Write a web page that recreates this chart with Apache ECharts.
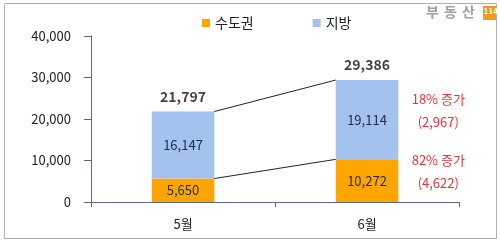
<!DOCTYPE html>
<html><head><meta charset="utf-8">
<script src="https://cdn.jsdelivr.net/npm/echarts@6/dist/echarts.min.js"></script>
<style>html,body{margin:0;padding:0;background:#fff}#c{width:500px;height:243px}</style>
</head><body><div id="c"></div>
<script>
var categories = ['5월', '6월'];
var metro = [5650, 10272];      // 수도권
var region = [16147, 19114];    // 지방
var totals = [21797, 29386];
var regionChange = ['18% 증가', '(2,967)'];
var metroChange = ['82% 증가', '(4,622)'];
var yTicks = [0, 10000, 20000, 30000, 40000];

var FONT = '"Noto Sans CJK KR", "Noto Sans", sans-serif';
var ORANGE = '#FFA500', BLUE = '#A4C2EE', RED = '#E0393E', LBL = '#1C2A47';
var BARW = 0.34;

function fmt(v){ return v.toLocaleString('en-US'); }

var logoChars = ['부', '동', '산'];
var logoGraphics = logoChars.map(function(ch, i){
  return {type:'text', left: 426 + i*18, top: 5, style:{text: ch, fill:'#a0a0a0', font:'bold 14px ' + FONT}};
});

var chart = echarts.init(document.getElementById('c'));
chart.setOption({
  animation: false,
  textStyle: {fontFamily: FONT},
  graphic: [
    {type:'rect', shape:{x:4.5,y:3.5,width:492,height:235}, style:{fill:'none', stroke:'#B0B0B0', lineWidth:1}, z:-1}
  ].concat(logoGraphics).concat([
    {type:'rect', shape:{x:483,y:6,width:13,height:14}, style:{fill:'#F39A1E'}, z:10},
    {type:'text', left:483.5, top:7, z:11, style:{text:'114', fill:'#fff', font:'bold 8px ' + FONT}}
  ]),
  legend: {
    top: 11, left: 197,
    itemWidth: 8, itemHeight: 8, itemGap: 59,
    icon: 'rect',
    textStyle: {fontSize: 14, color: '#222', fontFamily: FONT},
    data: ['수도권', '지방']
  },
  grid: {left: 91, right: 41, top: 36, bottom: 41},
  xAxis: {
    type: 'category', data: categories,
    axisLine: {lineStyle: {color: '#5A6A80'}},
    axisTick: {show: true, length: 5, lineStyle: {color: '#5A6A80'}},
    axisLabel: {color: '#222', fontSize: 13, margin: 16, fontFamily: FONT}
  },
  yAxis: {
    type: 'value', min: 0, max: 40000, interval: 10000,
    splitLine: {show: false},
    axisLine: {show: true, lineStyle: {color: '#5A6A80'}},
    axisTick: {show: true, inside: false, length: 7, lineStyle: {color: '#5A6A80'}},
    axisLabel: {color: '#222', fontSize: 13, margin: 20, fontFamily: FONT, formatter: function(v){ return fmt(v); }}
  },
  series: [
    {name: '수도권', type: 'bar', stack: 't', data: metro, barWidth: (BARW*100)+'%',
     itemStyle: {color: ORANGE},
     label: {show: true, position: 'inside', color: LBL, fontSize: 13, fontFamily: FONT, formatter: function(p){ return fmt(p.value); }}},
    {name: '지방', type: 'bar', stack: 't', data: region, barWidth: (BARW*100)+'%',
     itemStyle: {color: BLUE},
     label: {show: true, position: 'inside', color: LBL, fontSize: 13, fontFamily: FONT, formatter: function(p){ return fmt(p.value); }}},
    {type: 'scatter', data: totals.map(function(v,i){ return [i, v]; }), symbolSize: 0, silent: true,
     label: {show: true, position: 'top', distance: 8, color: '#111', fontSize: 14, fontWeight: 'bold', fontFamily: FONT,
       formatter: function(p){ return fmt(p.value[1]); }}},
    {type: 'custom', silent: true, z: 5,
     data: [[0, totals[0], 1, totals[1]], [0, metro[0], 1, metro[1]]],
     renderItem: function(params, api){
       var p0 = api.coord([api.value(0), api.value(1)]);
       var p1 = api.coord([api.value(2), api.value(3)]);
       var bw = api.size([1, 0])[0] * BARW;
       return {type: 'line', shape: {x1: p0[0] + bw/2, y1: p0[1], x2: p1[0] - bw/2, y2: p1[1]},
               style: {stroke: '#222', lineWidth: 1}};
     }},
    {type: 'custom', silent: true, z: 6,
     data: [[1, metro[1], totals[1], 0], [1, 0, metro[1], 1]],
     renderItem: function(params, api){
       var lo = api.value(1), hi = api.value(2);
       var pc = api.coord([api.value(0), (lo + hi) / 2]);
       var bw = api.size([1, 0])[0] * BARW;
       var t = api.value(3) === 0 ? regionChange : metroChange;
       var x = pc[0] + bw/2 + 40;
       return {type: 'group', children: [
         {type: 'text', style: {text: t[0], x: x, y: pc[1] - 21, fill: RED, font: '13px ' + FONT, textAlign: 'center', textVerticalAlign: 'middle'}},
         {type: 'text', style: {text: t[1], x: x, y: pc[1] + 2, fill: RED, font: '13px ' + FONT, textAlign: 'center', textVerticalAlign: 'middle'}}
       ]};
     }}
  ]
});
</script></body></html>
